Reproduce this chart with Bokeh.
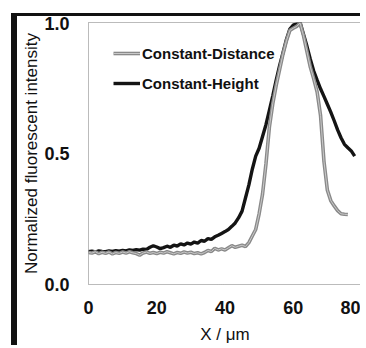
from bokeh.plotting import figure
from bokeh.models import Range1d, FixedTicker, Legend, LegendItem
from bokeh.embed import file_html
from bokeh.resources import INLINE

# ---- data ----
height_x = list(range(0, 79))
height_y = [0.125, 0.127, 0.124, 0.128, 0.126, 0.125, 0.128, 0.126, 0.129, 0.127,
            0.130, 0.128, 0.132, 0.130, 0.133, 0.131, 0.135, 0.134, 0.142, 0.148,
            0.143, 0.137, 0.141, 0.146, 0.142, 0.150, 0.147, 0.155, 0.151, 0.158,
            0.154, 0.162, 0.158, 0.168, 0.165, 0.175, 0.172, 0.182, 0.188, 0.195,
            0.202, 0.210, 0.222, 0.235, 0.255, 0.280, 0.330, 0.380, 0.440, 0.490,
            0.520, 0.565, 0.610, 0.665, 0.720, 0.780, 0.835, 0.885, 0.935, 0.975,
            0.990, 0.995, 1.000, 0.955, 0.910, 0.860, 0.815, 0.780, 0.747, 0.718,
            0.688, 0.658, 0.625, 0.590, 0.560, 0.535, 0.522, 0.510, 0.490]

distance_x = list(range(0, 77))
distance_y = [0.122, 0.120, 0.125, 0.118, 0.123, 0.119, 0.124, 0.117, 0.122, 0.119,
              0.124, 0.120, 0.125, 0.121, 0.118, 0.112, 0.120, 0.124, 0.119, 0.122,
              0.118, 0.123, 0.120, 0.125, 0.121, 0.117, 0.122, 0.119, 0.124, 0.120,
              0.123, 0.118, 0.121, 0.117, 0.122, 0.130, 0.126, 0.138, 0.132, 0.136,
              0.132, 0.140, 0.148, 0.142, 0.146, 0.150, 0.145, 0.160, 0.185, 0.210,
              0.270, 0.345, 0.460, 0.600, 0.690, 0.760, 0.820, 0.880, 0.930, 0.970,
              0.978, 0.985, 0.998, 0.950, 0.890, 0.830, 0.785, 0.735, 0.645, 0.470,
              0.360, 0.320, 0.300, 0.282, 0.270, 0.268, 0.267]

x_ticks = [0, 20, 40, 60, 80]
y_ticks = [0.0, 0.5, 1.0]
y_tick_labels = ["0.0", "0.5", "1.0"]
series_names = ["Constant-Distance", "Constant-Height"]

FONT = "'Liberation Sans', Arial, sans-serif"

p = figure(width=349, height=332, output_backend="svg", toolbar_location=None,
           x_range=Range1d(0, 80), y_range=Range1d(0, 1.0),
           min_border_left=71, min_border_right=5, min_border_top=6, min_border_bottom=64,
           margin=(13, 0, 0, 11),
           styles={"border-top": "3px solid #111", "border-left": "6px solid #111"})
p.background_fill_color = "white"
p.border_fill_color = "white"
p.outline_line_color = "#777777"
p.outline_line_dash = "1 1"
p.outline_line_width = 1
p.xgrid.visible = False
p.ygrid.visible = False

for ax in (p.xaxis[0], p.yaxis[0]):
    ax.axis_line_color = None
    ax.major_tick_line_color = None
    ax.minor_tick_line_color = None
    ax.major_tick_out = 0
    ax.major_tick_in = 0
    ax.major_label_text_font = FONT
    ax.major_label_text_font_size = "18px"
    ax.major_label_text_font_style = "bold"
    ax.major_label_text_color = "#111111"
    ax.axis_label_text_font = FONT
    ax.axis_label_text_font_style = "normal"
    ax.axis_label_text_color = "#111111"

p.xaxis.ticker = FixedTicker(ticks=x_ticks)
p.yaxis.ticker = FixedTicker(ticks=y_ticks)
p.yaxis.major_label_overrides = {t: l for t, l in zip(y_ticks, y_tick_labels)}
p.xaxis.major_label_standoff = 16
p.yaxis.major_label_standoff = 19
p.xaxis.axis_label = "X / μm"
p.yaxis.axis_label = "Normalized fluorescent intensity"
p.xaxis.axis_label_text_font_size = "17px"
p.yaxis.axis_label_text_font_size = "17px"
p.xaxis.axis_label_standoff = 8
p.yaxis.axis_label_standoff = 0

r_h = p.line(height_x, height_y, line_color="#141414", line_width=3.4)
r_d1 = p.line(distance_x, distance_y, line_color="#8a8a8a", line_width=3.6)
r_d2 = p.line(distance_x, distance_y, line_color="#c9c9c9", line_width=1)

legend = Legend(items=[LegendItem(label=series_names[0], renderers=[r_d1, r_d2]),
                       LegendItem(label=series_names[1], renderers=[r_h])],
                location=(25, 191), orientation="vertical",
                margin=0, padding=0, spacing=10,
                glyph_width=27, glyph_height=20, label_height=20, label_standoff=2,
                label_text_font=FONT, label_text_font_size="15px",
                label_text_font_style="bold", label_text_color="#111111",
                border_line_color=None, background_fill_alpha=0)
p.add_layout(legend, "center")

open("out.html", "w").write(file_html(p, INLINE))
